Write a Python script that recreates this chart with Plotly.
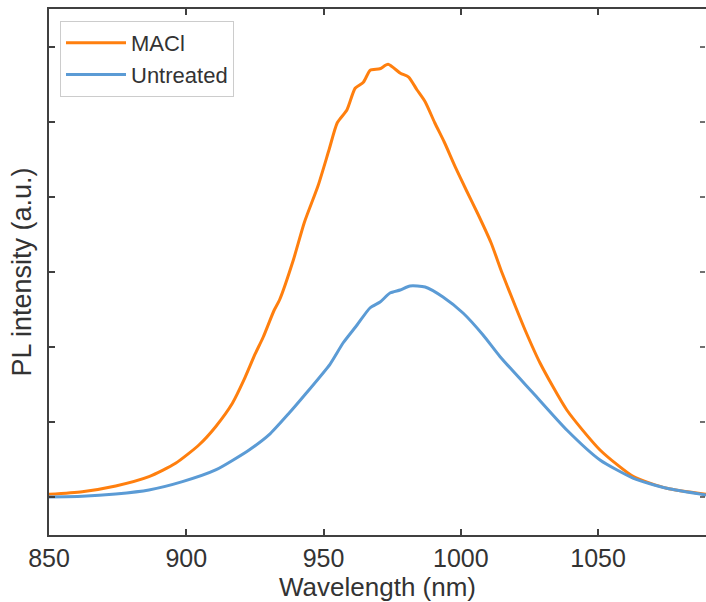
import plotly.graph_objects as go

# MACl spectrum (wavelength nm, PL intensity a.u.)
maci_wl = [850, 862.1, 874.3, 886.4, 896.1, 904.6, 910.7, 916.8, 921, 925, 928, 932, 934,
           939, 943, 948, 952, 955, 958.5, 961.5, 964.5, 967, 970.5, 973.5, 978, 981,
           984, 987, 990.5, 994, 998, 1002, 1006, 1011, 1015, 1020, 1023.4, 1028.9, 1038.6,
           1050.7, 1062.9, 1075, 1089.3]
maci_pl = [0.036, 0.071, 0.147, 0.271, 0.449, 0.693, 0.937, 1.249, 1.56, 1.90, 2.13, 2.49, 2.63,
           3.16, 3.66, 4.15, 4.63, 4.99, 5.16, 5.45, 5.53, 5.69, 5.71, 5.77, 5.65, 5.60,
           5.43, 5.27, 4.99, 4.73, 4.40, 4.09, 3.79, 3.39, 2.99, 2.53, 2.227, 1.783, 1.16,
           0.627, 0.271, 0.116, 0.036]

# Untreated spectrum
untr_wl = [850, 862.1, 874.3, 886.4, 898.6, 910.7, 922.9, 930.1, 937.4, 942.5, 952.4,
           957.1, 962.2, 966.9, 970.6, 974.2, 977.9, 981.5, 987, 993.5, 1000.8, 1008.1,
           1014.3, 1026.4, 1038.6, 1050.7, 1062.9, 1075, 1089.3]
untr_pl = [0.0, 0.009, 0.04, 0.093, 0.204, 0.36, 0.627, 0.827, 1.116, 1.333, 1.773,
           2.053, 2.293, 2.52, 2.60, 2.72, 2.76, 2.813, 2.80, 2.667, 2.453, 2.16,
           1.871, 1.383, 0.893, 0.493, 0.249, 0.116, 0.027]

x_ticks = [850, 900, 950, 1000, 1050]
y_ticks = [0, 1, 2, 3, 4, 5, 6]
x_range = [850, 1089.3]
y_range = [-0.507, 6.507]
x_title = "Wavelength (nm)"
y_title = "PL intensity (a.u.)"

FONT = "Liberation Sans, Arial, sans-serif"
AXC = "#404040"
TXT = "#333333"

fig = go.Figure()
fig.add_trace(go.Scatter(x=maci_wl, y=maci_pl, mode="lines", name="MACl",
                         line=dict(color="#ff7f0e", width=3, shape="spline", smoothing=0.6)))
fig.add_trace(go.Scatter(x=untr_wl, y=untr_pl, mode="lines", name="Untreated",
                         line=dict(color="#5b9bd5", width=3, shape="spline", smoothing=0.6)))

W, H = 706, 602
ml, mr, mt, mb = 49, 0, 9, 67
pw = W - ml - mr
ph = H - mt - mb

# mirrored right-side ticks (the right frame line lies just outside the picture)
shapes = []
for v in y_ticks:
    shapes.append(dict(type="line", xref="paper", yref="y", x0=1 - 1 / pw, x1=1 - 6 / pw,
                       y0=v, y1=v, line=dict(color=AXC, width=1.5)))

fig.update_layout(
    width=W, height=H,
    margin=dict(l=ml, r=mr, t=mt, b=mb),
    paper_bgcolor="white", plot_bgcolor="white",
    font=dict(family=FONT, size=27, color=TXT),
    showlegend=True,
    shapes=shapes,
    annotations=[dict(text=x_title, xref="paper", yref="paper", x=0.5, y=-52 / ph,
                      xanchor="center", yanchor="middle", showarrow=False,
                      font=dict(family=FONT, size=26, color=TXT))],
    legend=dict(x=(60 - ml) / pw, y=(535 - 21) / ph, xanchor="left", yanchor="top",
                bordercolor="#cccccc", borderwidth=1, bgcolor="white",
                font=dict(family=FONT, size=22, color=TXT), itemwidth=60),
    xaxis=dict(range=x_range, tickvals=x_ticks, ticks="inside", ticklen=6, tickwidth=1.5,
               tickcolor=AXC, showline=True, linecolor=AXC, linewidth=2, mirror="ticks",
               showgrid=False, zeroline=False,
               tickfont=dict(size=25, color=TXT)),
    yaxis=dict(range=y_range, tickvals=y_ticks, ticks="inside", ticklen=6, tickwidth=1.5,
               tickcolor=AXC, showline=True, linecolor=AXC, linewidth=2,
               showticklabels=False, showgrid=False, zeroline=False,
               title=dict(text=y_title, font=dict(size=27, color=TXT), standoff=8)),
)

fig.write_html("out.html")
